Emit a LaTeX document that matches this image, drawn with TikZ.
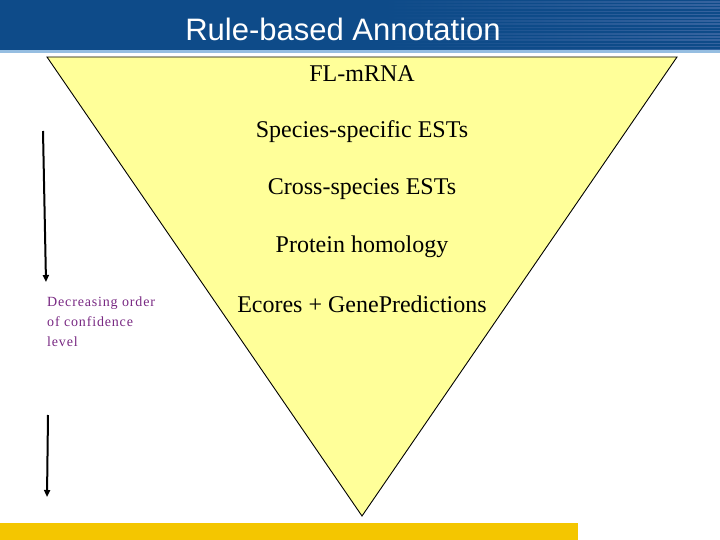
\documentclass[tikz,border=0pt]{standalone}
\usepackage{fontspec}
\setmainfont{Liberation Serif}
\newfontfamily\titlefont{Liberation Sans}
\newfontfamily\notefont[LetterSpace=6]{Liberation Serif}
\usetikzlibrary{arrows.meta,fadings}
\definecolor{hdrblue}{RGB}{14,75,137}
\definecolor{hdrstripe}{RGB}{55,100,160}
\definecolor{hdrline}{RGB}{150,190,225}
\definecolor{triyellow}{RGB}{255,255,153}
\definecolor{bargold}{RGB}{244,198,0}
\definecolor{notepurple}{RGB}{120,40,130}
\tikzfading[name=stripefade, left color=transparent!100, right color=transparent!0]
\tikzset{
  level/.style={font=\fontsize{24}{28}\selectfont, inner sep=0pt, anchor=center},
  conf/.style={-{Triangle[width=6pt,length=7pt]}, line width=2pt, black},
}
\begin{document}
\begin{tikzpicture}[x=1pt,y=-1pt]
\useasboundingbox (0,0) rectangle (720,540);
% header
\fill[hdrblue] (0,0) rectangle (720,50);
\foreach \k in {0,...,15} {
  \fill[hdrstripe, path fading=stripefade] (380,{1+\k*3.2}) rectangle (720,{2.6+\k*3.2});
}
\fill[hdrline] (0,50) rectangle (720,53);
\node[text=white, font=\titlefont\fontsize{31}{34}\selectfont, inner sep=0pt] (title) at (343,29) {Rule-based Annotation};
% bottom bar
\fill[bargold] (0,523) rectangle (578,540);
% triangle
\draw[fill=triyellow, line width=0.9pt] (47,57) -- (677,57) -- (362,516) -- cycle;
% levels
\node[level] (l1) at (362,74) {FL-mRNA};
\node[level] (l2) at (362,132) {Species-specific ESTs};
\node[level] (l3) at (362,189) {Cross-species ESTs};
\node[level] (l4) at (362,247) {Protein homology};
\node[level] (l5) at (362,304) {Ecores + GenePredictions};
% confidence note
\node[text=notepurple, font=\notefont\fontsize{14}{20}\selectfont, align=left, anchor=north west, inner sep=0pt] (note) at (47,297) {Decreasing order\\ of confidence\\ level};
% arrows
\coordinate (a1s) at (43,131);
\coordinate (a1e) at (46,282);
\coordinate (a2s) at (48,415);
\coordinate (a2e) at (47,497);
\draw[conf] (a1s) -- (a1e);
\draw[conf] (a2s) -- (a2e);
\end{tikzpicture}
\end{document}
